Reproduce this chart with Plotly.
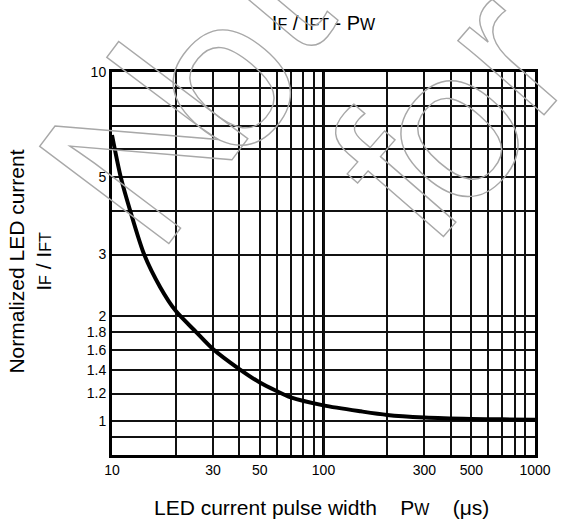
import plotly.graph_objects as go

# ---- data ----
pulse_width_us = [10, 11, 12.2, 14.2, 16.9, 20, 25, 30, 40, 50, 60, 70, 100, 150, 200, 300, 500, 700, 1000]
normalized_current = [6.6, 5.0, 4.0, 3.0, 2.42, 2.07, 1.8, 1.61, 1.41, 1.29, 1.22, 1.17, 1.11,
                      1.067, 1.042, 1.025, 1.015, 1.012, 1.01]

x_grid = [10, 20, 30, 40, 50, 60, 70, 80, 90, 100, 200, 300, 400, 500, 600, 700, 800, 900, 1000]
x_labeled = ["10", "30", "50", "100", "300", "500", "1000"]
y_grid = [0.9, 1, 1.2, 1.4, 1.6, 1.8, 2, 3, 4, 5, 6, 7, 8, 9, 10]
y_labeled = ["1", "1.2", "1.4", "1.6", "1.8", "2", "3", "5", "10"]

FONT = "Liberation Sans, Arial, sans-serif"


def fmt(v):
    return ("%g" % v)


def small(t, px):
    # small-size "subscript" letters sitting near the baseline, as in the reference
    return '<span style="font-size:%dpx">%s</span>' % (px, t)


x_text = [fmt(v) if fmt(v) in x_labeled else "" for v in x_grid]
y_text = [fmt(v) if fmt(v) in y_labeled else "" for v in y_grid]

fig = go.Figure()
fig.add_trace(go.Scatter(
    x=pulse_width_us, y=normalized_current, mode="lines",
    line=dict(color="black", width=4, shape="spline", smoothing=0.8),
    hoverinfo="skip", showlegend=False))

fig.add_vline(x=100, line_width=3, line_color="black", layer="below")

title_txt = "I" + small("F", 16) + " / I" + small("FT", 16) + " - P" + small("W", 16)
fig.update_layout(
    width=563, height=525,
    margin=dict(l=112, r=25, t=72, b=70),
    paper_bgcolor="white", plot_bgcolor="white",
    font=dict(family=FONT, color="black", size=14),
    showlegend=False,
    title=dict(text=title_txt,
               x=0.5, xref="paper", xanchor="center",
               y=1 - 23 / 525, yref="container", yanchor="middle",
               font=dict(size=20, family=FONT, color="black")),
    xaxis=dict(type="log", range=[1, 3], tickmode="array", tickvals=x_grid, ticktext=x_text,
               showgrid=True, gridcolor="#111", gridwidth=1.6,
               showline=True, linecolor="black", linewidth=3, mirror=True,
               ticks="", zeroline=False, tickfont=dict(size=14)),
    yaxis=dict(type="log", range=[-0.09691, 1], tickmode="array", tickvals=y_grid, ticktext=y_text,
               showgrid=True, gridcolor="#111", gridwidth=1.6,
               showline=True, linecolor="black", linewidth=3, mirror=True,
               ticks="", zeroline=False, tickfont=dict(size=14)),
)

# axis titles
fig.add_annotation(text="LED current pulse width&nbsp;&nbsp;&nbsp;&nbsp;P" + small("W", 16)
                        + "&nbsp;&nbsp;&nbsp;&nbsp;(μs)",
                   xref="paper", yref="paper", x=0.495, y=(455 - 507) / 383,
                   xanchor="center", yanchor="middle", showarrow=False,
                   font=dict(size=21, family=FONT, color="black"))
fig.add_annotation(text="Normalized LED current<br>I" + small("F", 16) + " / I" + small("FT", 16),
                   xref="paper", yref="paper", x=(29 - 112) / 426, y=(455 - 262) / 383,
                   xanchor="center", yanchor="middle", textangle=-90, showarrow=False,
                   font=dict(size=21, family=FONT, color="black"))

# outlined watermark letters ("Not for"), placed individually
wm_style = "stroke:#a8a8a8;stroke-width:1.4px"
wm_letters = [("N", 143, 142, -53, 235), ("o", 219, 76, -50, 215), ("t", 264, -6, -50, 215),
              ("f", 396, 179, -49, 215), ("o", 449, 128, -49, 215), ("r", 505, 50, -49, 215)]
for ch, px, py, ang, size in wm_letters:
    fig.add_annotation(text='<span style="%s">%s</span>' % (wm_style, ch),
                       xref="paper", yref="paper", x=(px - 112) / 426, y=(455 - py) / 383,
                       xanchor="center", yanchor="middle", textangle=ang, showarrow=False,
                       font=dict(size=size, family="Liberation Sans, Arial", color="rgba(0,0,0,0)"))

fig.write_html("out.html", config={"displayModeBar": False},
               post_script="document.body.style.margin='0';")
